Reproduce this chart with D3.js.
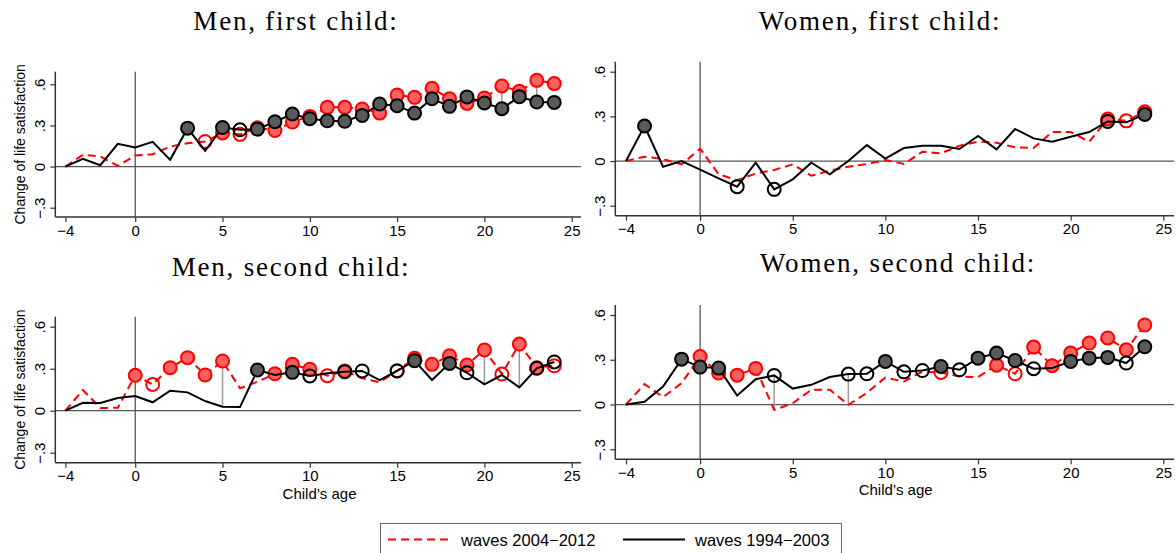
<!DOCTYPE html>
<html>
<head>
  <meta charset="utf-8">
  <title>Life satisfaction by child's age</title>
  <script src="https://cdn.jsdelivr.net/npm/d3@7"></script>
  <style>
    body { margin: 0; background: #fff; }
    svg { display: block; }
    .tick text { font-family: "Liberation Sans", Arial, sans-serif; font-size: 15px; fill: #000; }
  </style>
</head>
<body>
  <script>
    // child's age (x categories)
    const ages = [-4, -3, -2, -1, 0, 1, 2, 3, 4, 5, 6, 7, 8, 9, 10, 11, 12, 13, 14, 15, 16, 17, 18, 19, 20, 21, 22, 23, 24];
    const xTicks = [-4, 0, 5, 10, 15, 20, 25];
    const yTicks = [-0.3, 0, 0.3, 0.6];
    const yTickLabels = ["\u2212.3", "0", ".3", ".6"];

    const titles = ["Men, first child:", "Women, first child:", "Men, second child:", "Women, second child:"];
    const legendLabels = ["waves 2004\u22122012", "waves 1994\u22122003"];

    // red dashed = waves 2004-2012, black solid = waves 1994-2003
    const menFirstNew = [0, 0.086, 0.073, 0.005, 0.08, 0.09, 0.146, 0.17, 0.183, 0.245, 0.235, 0.283, 0.263, 0.325, 0.366, 0.432, 0.432, 0.42, 0.39, 0.522, 0.505, 0.571, 0.495, 0.461, 0.5, 0.588, 0.549, 0.629, 0.605];
    const menFirstOld = [0, 0.056, 0.01, 0.166, 0.139, 0.18, 0.049, 0.28, 0.115, 0.285, 0.268, 0.273, 0.327, 0.383, 0.349, 0.334, 0.33, 0.373, 0.456, 0.444, 0.39, 0.495, 0.439, 0.508, 0.464, 0.422, 0.51, 0.471, 0.468];
    const womenFirstNew = [0, 0.029, 0.013, -0.022, 0.083, -0.089, -0.128, -0.084, -0.06, -0.022, -0.099, -0.065, -0.038, -0.02, 0.007, -0.02, 0.063, 0.052, 0.103, 0.13, 0.123, 0.092, 0.087, 0.195, 0.195, 0.13, 0.282, 0.27, 0.331];
    const womenFirstOld = [0, 0.235, -0.038, 0.0, -0.058, -0.116, -0.172, -0.011, -0.19, -0.123, -0.011, -0.089, 0.0, 0.107, 0.016, 0.087, 0.103, 0.103, 0.081, 0.168, 0.078, 0.215, 0.152, 0.13, 0.163, 0.195, 0.266, 0.26, 0.313];
    const menSecondNew = [0, 0.148, 0.019, 0.021, 0.253, 0.188, 0.307, 0.379, 0.255, 0.355, 0.16, 0.207, 0.264, 0.331, 0.296, 0.25, 0.284, 0.231, 0.203, 0.286, 0.374, 0.331, 0.393, 0.326, 0.434, 0.262, 0.476, 0.307, 0.321];
    const menSecondOld = [0, 0.057, 0.055, 0.091, 0.105, 0.06, 0.143, 0.131, 0.069, 0.029, 0.026, 0.291, 0.255, 0.274, 0.248, 0.267, 0.279, 0.284, 0.219, 0.284, 0.357, 0.219, 0.338, 0.271, 0.188, 0.255, 0.167, 0.303, 0.348];
    const womenSecondNew = [0, 0.137, 0.05, 0.143, 0.322, 0.211, 0.197, 0.242, -0.036, 0.009, 0.099, 0.099, -0.002, 0.078, 0.181, 0.154, 0.221, 0.215, 0.188, 0.184, 0.264, 0.206, 0.385, 0.26, 0.345, 0.412, 0.446, 0.367, 0.533];
    const womenSecondOld = [0, 0.018, 0.121, 0.304, 0.251, 0.244, 0.06, 0.17, 0.195, 0.107, 0.132, 0.184, 0.204, 0.206, 0.289, 0.219, 0.228, 0.255, 0.233, 0.311, 0.345, 0.295, 0.24, 0.244, 0.289, 0.311, 0.316, 0.278, 0.387];

    // markers: "-" none, "o" hollow, "f" filled
    const menFirstNewMk    = "--------ofoffffffffffffffffff";
    const menFirstOldMk    = "-------f-foffffffffffffffffff";
    const womenFirstNewMk  = "--------------------------fof";
    const womenFirstOldMk  = "-f----o-o-----------------o-f";
    const menSecondNewMk   = "----foffff--fffof--offfffoffo";
    const menSecondOldMk   = "-----------f-fo-oo-of-fo---oo";
    const womenSecondNewMk = "----ffff---------o--fofffffff";
    const womenSecondOldMk = "---fff--o---oofoofofffo-fffof";

    // ages with a grey line between the two series
    const menFirstGap = [21, 23];
    const womenFirstGap = [];
    const menSecondGap = [5, 20, 22];
    const womenSecondGap = [4, 8];

    const panels = [
      { title: titles[0], yNew: menFirstNew, yOld: menFirstOld, mNew: menFirstNewMk, mOld: menFirstOldMk, gap: menFirstGap,
        left: 55.3, right: 581, top: 71.7, bottom: 217, x0: 65.4, x1: 571.7, yLo: 207.7, yHi: 84.3, tx: 296, ty: 30, ytitle: true },
      { title: titles[1], yNew: womenFirstNew, yOld: womenFirstOld, mNew: womenFirstNewMk, mOld: womenFirstOldMk, gap: womenFirstGap,
        left: 615.3, right: 1174, top: 61.7, bottom: 215.7, x0: 626, x1: 1163.3, yLo: 205.7, yHi: 71.7, tx: 880, ty: 30, ytitle: false },
      { title: titles[2], yNew: menSecondNew, yOld: menSecondOld, mNew: menSecondNewMk, mOld: menSecondOldMk, gap: menSecondGap,
        left: 55.3, right: 581, top: 316.7, bottom: 462.7, x0: 65.4, x1: 571.7, yLo: 452.7, yHi: 326.7, tx: 291, ty: 276, ytitle: true },
      { title: titles[3], yNew: womenSecondNew, yOld: womenSecondOld, mNew: womenSecondNewMk, mOld: womenSecondOldMk, gap: womenSecondGap,
        left: 615.3, right: 1174, top: 305, bottom: 459.3, x0: 626, x1: 1163.3, yLo: 449.3, yHi: 315, tx: 898, ty: 272, ytitle: false }
    ];

    const w = 1176, h = 553;
    const svg = d3.select("body").append("svg").attr("width", w).attr("height", h);

    panels.forEach(function (p, pi) {
      const x = d3.scaleLinear().domain([-4, 25]).range([p.x0, p.x1]);
      const y = d3.scaleLinear().domain([-0.3, 0.6]).range([p.yLo, p.yHi]);
      const g = svg.append("g");

      // title
      g.append("text")
        .attr("x", p.tx).attr("y", p.ty)
        .attr("text-anchor", "middle")
        .style("font-family", "'Liberation Serif', 'DejaVu Serif', serif")
        .style("font-size", "27px")
        .style("letter-spacing", "1.8px")
        .text(p.title);

      // reference lines
      g.append("line")
        .attr("x1", p.left).attr("x2", p.right)
        .attr("y1", y(0)).attr("y2", y(0))
        .attr("stroke", "#555").attr("stroke-width", 1.3);
      g.append("line")
        .attr("x1", x(0)).attr("x2", x(0))
        .attr("y1", p.top).attr("y2", p.bottom)
        .attr("stroke", "#555").attr("stroke-width", 1.3);

      // x axis
      const xAxis = g.append("g")
        .attr("transform", "translate(0," + p.bottom + ")")
        .call(d3.axisBottom(x).tickValues(xTicks).tickSize(5).tickPadding(3)
          .tickFormat(function (d) { return d < 0 ? "\u2212" + Math.abs(d) : d; }));
      xAxis.select(".domain").remove();
      xAxis.selectAll(".tick line").attr("stroke", "#333").attr("stroke-width", 1.2);
      g.append("line")
        .attr("x1", p.left).attr("x2", p.right)
        .attr("y1", p.bottom).attr("y2", p.bottom)
        .attr("stroke", "#333").attr("stroke-width", 1.5);

      // y axis
      const yAxis = g.append("g")
        .attr("transform", "translate(" + p.left + ",0)")
        .call(d3.axisLeft(y).tickValues(yTicks).tickSize(5)
          .tickFormat(function (d, i) { return yTickLabels[i]; }));
      yAxis.select(".domain").remove();
      yAxis.selectAll(".tick line").attr("stroke", "#333").attr("stroke-width", 1.2);
      yAxis.selectAll(".tick text")
        .attr("x", null).attr("dy", null)
        .attr("text-anchor", "middle")
        .attr("transform", "translate(-10,0) rotate(-90)");
      g.append("line")
        .attr("x1", p.left).attr("x2", p.left)
        .attr("y1", p.top).attr("y2", p.bottom)
        .attr("stroke", "#333").attr("stroke-width", 1.5);

      if (p.ytitle) {
        g.append("text")
          .attr("transform", "translate(25," + ((p.top + p.bottom) / 2) + ") rotate(-90)")
          .attr("text-anchor", "middle")
          .style("font-family", "'Liberation Sans', Arial, sans-serif")
          .style("font-size", "14px")
          .text("Change of life satisfaction");
      }
      if (pi >= 2) {
        g.append("text")
          .attr("x", (p.x0 + p.x1) / 2 + 1).attr("y", p.bottom + 36)
          .attr("text-anchor", "middle")
          .style("font-family", "'Liberation Sans', Arial, sans-serif")
          .style("font-size", "15px")
          .text("Child\u2019s age");
      }

      // grey connectors
      g.selectAll(".gap").data(p.gap).enter().append("line")
        .attr("x1", function (a) { return x(a); }).attr("x2", function (a) { return x(a); })
        .attr("y1", function (a) { return y(p.yNew[ages.indexOf(a)]); })
        .attr("y2", function (a) { return y(p.yOld[ages.indexOf(a)]); })
        .attr("stroke", "#999").attr("stroke-width", 1.5);

      const line = d3.line()
        .x(function (d) { return x(d[0]); })
        .y(function (d) { return y(d[1]); });

      function series(vals, marks, col, fillCol, dashed) {
        const pts = ages.map(function (a, i) { return [a, vals[i], marks[i]]; });
        g.append("path")
          .datum(pts)
          .attr("d", line)
          .attr("fill", "none")
          .attr("stroke", col)
          .attr("stroke-width", 2)
          .attr("stroke-dasharray", dashed ? "8,5" : null);
        g.selectAll(null)
          .data(pts.filter(function (d) { return d[2] !== "-"; }))
          .enter().append("circle")
          .attr("cx", function (d) { return x(d[0]); })
          .attr("cy", function (d) { return y(d[1]); })
          .attr("r", 6.5)
          .attr("fill", function (d) { return d[2] === "f" ? fillCol : "none"; })
          .attr("stroke", col)
          .attr("stroke-width", 2);
      }
      series(p.yNew, p.mNew, "#ff0000", "#ff6060", true);
      series(p.yOld, p.mOld, "#000000", "#5a5a5a", false);
    });

    // legend
    const lg = svg.append("g");
    lg.append("rect")
      .attr("x", 380.5).attr("y", 523.5).attr("width", 461).attr("height", 40)
      .attr("fill", "#fff").attr("stroke", "#666").attr("stroke-width", 1);
    lg.append("line").attr("x1", 388).attr("x2", 450).attr("y1", 539.5).attr("y2", 539.5)
      .attr("stroke", "#ff0000").attr("stroke-width", 2).attr("stroke-dasharray", "8,5");
    lg.append("line").attr("x1", 623).attr("x2", 685).attr("y1", 539.5).attr("y2", 539.5)
      .attr("stroke", "#000").attr("stroke-width", 2);
    lg.selectAll(null).data(legendLabels).enter().append("text")
      .attr("x", function (d, i) { return i === 0 ? 461 : 695; })
      .attr("y", 545.5)
      .style("font-family", "'Liberation Sans', Arial, sans-serif")
      .style("font-size", "16.5px")
      .text(function (d) { return d; });
  </script>
</body>
</html>
